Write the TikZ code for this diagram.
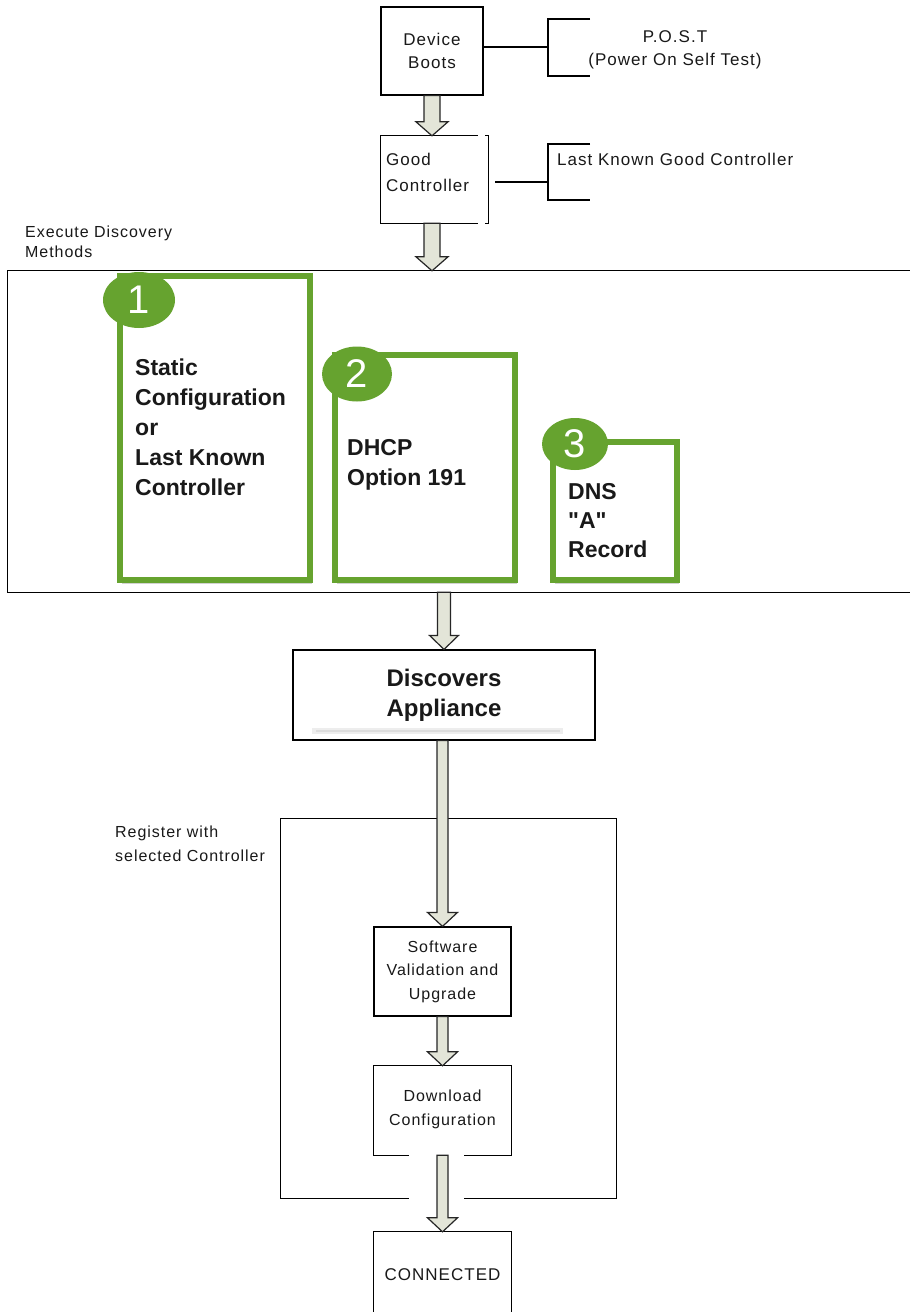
\documentclass[tikz,border=0pt]{standalone}
\usepackage{fontspec}
\setmainfont{Liberation Sans}
\newfontfamily\smallf[LetterSpace=6]{Liberation Sans}
\newfontfamily\nomap[Ligatures=TeXOff]{Liberation Sans}
\usetikzlibrary{calc,shadows,shapes.geometric}
\definecolor{grn}{HTML}{66A32F}
\definecolor{arrfill}{HTML}{E3E5D8}
\newcommand{\blockarr}[5]{%
  \draw[arr] let \p1=(#1), \p2=(#2), \p3=(#3) in
   (\x1-#4pt,\y2) -- (\x1-#4pt,\y3+14pt) -- (\x1-#5pt,\y3+14pt) -- (\x1,\y3)
   -- (\x1+#5pt,\y3+14pt) -- (\x1+#4pt,\y3+14pt) -- (\x1+#4pt,\y2) -- cycle;}
\tikzset{
  blk/.style={line width=1.2pt, draw=black},
  box/.style={blk, rectangle, inner sep=0pt, fill=white},
  frame/.style={rectangle, inner sep=0pt, draw=none},
  small/.style={font=\smallf\fontsize{17}{23}\selectfont, inner sep=0pt, text=black!90},
  bold/.style={font=\bfseries\fontsize{23}{30}\selectfont, inner sep=0pt, align=left, text=black!90},
  gbox/.style={rectangle, inner sep=0pt, draw=grn, line width=5.5pt, fill=white,
     drop shadow={shadow xshift=2pt, shadow yshift=-4pt, opacity=0.35}},
  num/.style={ellipse, fill=grn, inner sep=0pt, text=white, font=\fontsize{40}{40}\selectfont},
  arr/.style={line width=1.2pt, draw=black!85, fill=arrfill, line join=miter},
}
\begin{document}
\begin{tikzpicture}[x=1pt,y=-1pt]
\useasboundingbox (0,0) rectangle (910,1312);
\fill[white] (0,0) rectangle (910,1312);

% top boxes
\node[box, minimum width=102pt, minimum height=88pt, align=center, small] (dev) at (432,51) {Device\\Boots};
\coordinate (postb) at (548,47);
\draw[blk] (dev.east |- postb) -- (postb);
\draw[blk] (590,19) -- (548,19) -- (548,76) -- (590,76);
\node[small, align=center] (post) at (675,50) {P.O.S.T\\(Power On Self Test)};

\node[frame, minimum width=107pt, minimum height=87pt] (gc) at (434.5,179.5) {};
\draw[blk] ($(gc.north west)+(97,0)$) -- (gc.north west) -- (gc.south west) -- ($(gc.south west)+(97,0)$);
\draw[blk] ($(gc.north east)+(-3,0)$) -- (gc.north east) -- (gc.south east) -- ($(gc.south east)+(-3,0)$);
\node[small, align=left, anchor=west, font=\smallf\fontsize{17}{26}\selectfont] (gct) at (386,172) {Good\\Controller};
\coordinate (lkgb) at (548,182);
\draw[blk] ($(gc.east |- lkgb)+(7,0)$) -- (lkgb);
\draw[blk] (590,144) -- (548,144) -- (548,200) -- (590,200);
\node[small, anchor=west] (lkg) at (557,159) {Last Known Good Controller};

\blockarr{dev.south}{dev.south}{gc.north}{8}{16}

% discovery frame
\node[small, align=left, anchor=west, font=\smallf\fontsize{16}{20}\selectfont] (exec) at (25,242) {Execute Discovery\\Methods};
\node[frame, minimum width=906pt, minimum height=321pt] (disc) at (461,431.5) {};
\draw[blk] (disc.north east) -- (disc.north west) -- (disc.south west) -- (disc.south east);
\blockarr{dev.south}{gc.south}{disc.north}{8}{16}

% green boxes
\node[gbox, minimum width=190pt, minimum height=304pt] (m1) at (215,428) {};
\node[gbox, minimum width=180pt, minimum height=225pt] (m2) at (425,467.5) {};
\node[gbox, minimum width=124pt, minimum height=138pt] (m3) at (615,511) {};
\node[num, minimum width=72pt, minimum height=56pt] (n1) at (139,300) {1};
\node[num, minimum width=70pt, minimum height=55pt] (n2) at (357,374) {2};
\node[num, minimum width=66pt, minimum height=52pt] (n3) at (575,444) {3};
\node[bold, anchor=west] (t1) at (135,427) {Static\\Configuration\\or\\Last Known\\Controller};
\node[bold, anchor=west] (t2) at (347,465) {DHCP\\Option 191};
\node[bold, anchor=west, font=\nomap\bfseries\fontsize{23}{29}\selectfont] (t3) at (568,521) {DNS\\"A"\\Record};

% discovers appliance
\node[box, minimum width=302pt, minimum height=90pt] (app) at (444,695) {};
\fill[black, opacity=0.07] (312,728) rectangle (563,734);
\fill[black, opacity=0.07] (316,730) rectangle (560,732);
\node[bold, align=center, font=\bfseries\fontsize{24}{30}\selectfont] (appt) at (444,695) {Discovers\\Appliance};
\blockarr{app.north}{disc.south}{app.north}{6.5}{14.5}

% register frame
\node[small, align=left, anchor=west, font=\smallf\fontsize{16}{24}\selectfont] (regt) at (115,844) {Register with\\selected Controller};
\node[frame, minimum width=335pt, minimum height=379pt] (reg) at (448.5,1008.5) {};
\draw[blk] ($(reg.south west)+(128,0)$) -- (reg.south west) -- (reg.north west) -- (reg.north east) -- (reg.south east) -- ($(reg.south west)+(183,0)$);

\node[box, minimum width=137pt, minimum height=89pt, align=center, small, font=\smallf\fontsize{16}{23.5}\selectfont] (sw) at (442.5,971.5) {Software\\Validation and\\Upgrade};
\node[frame, minimum width=137pt, minimum height=89pt] (dl) at (442.5,1110.5) {};
\draw[blk] ($(dl.south west)+(35,0)$) -- (dl.south west) -- (dl.north west) -- (dl.north east) -- (dl.south east) -- ($(dl.south east)+(-47,0)$);
\node[small, align=center, font=\smallf\fontsize{16}{24}\selectfont] (dlt) at (442.5,1109) {Download\\Configuration};
\node[frame, minimum width=137pt, minimum height=88pt] (con) at (442.5,1276) {};
\draw[blk] (con.south west) -- (con.north west) -- (con.north east) -- (con.south east);
\node[small, font=\smallf\fontsize{17}{23}\selectfont] (cont) at (442.5,1275) {CONNECTED};

\blockarr{sw.north}{app.south}{sw.north}{5.5}{15}
\blockarr{sw.south}{sw.south}{dl.north}{5.5}{15}
\blockarr{dl.south}{dl.south}{con.north}{5.5}{15}
\end{tikzpicture}
\end{document}
